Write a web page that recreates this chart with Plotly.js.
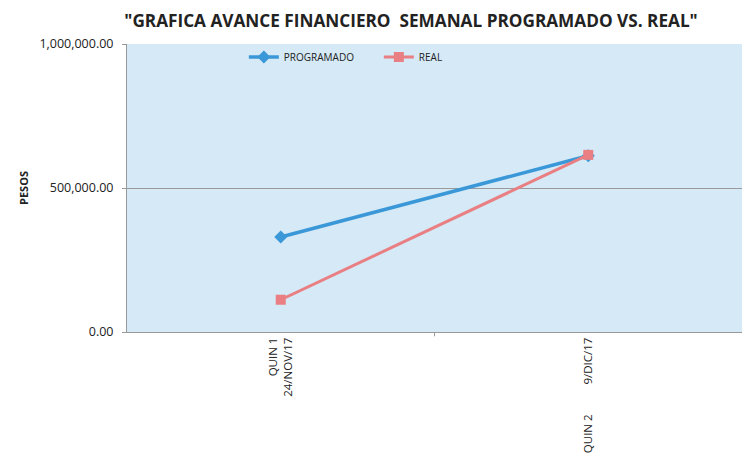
<!DOCTYPE html>
<html><head><meta charset="utf-8">
<script src="https://cdn.plot.ly/plotly-3.0.1.min.js"></script>
<style>body{margin:0;background:#fff}#c{width:750px;height:459px}</style>
</head><body><div id="c"></div>
<script>
var categories = ["QUIN 1<br>24/NOV/17", "QUIN 2\u00a0\u00a0\u00a0\u00a0\u00a0\u00a0\u00a0\u00a0\u00a0\u00a09/DIC/17"];
var programado = [330000, 612000];
var real = [112000, 615000];
var yTicks = [0, 500000, 1000000];

var xIdx = categories.map(function(_, i){ return i; });
var font = "'Open Sans', sans-serif";

var traces = [
  {x: xIdx, y: programado, name: "PROGRAMADO", type: "scatter", mode: "lines+markers",
   line: {color: "#3A98D8", width: 3.5}, marker: {symbol: "diamond", size: 10, color: "#3A98D8"}},
  {x: xIdx, y: real, name: "REAL", type: "scatter", mode: "lines+markers",
   line: {color: "#E97F82", width: 3}, marker: {symbol: "square", size: 10, color: "#E97F82"}}
];

var layout = {
  width: 750, height: 459,
  paper_bgcolor: "#ffffff", plot_bgcolor: "#D5E9F6",
  margin: {l: 127, r: 8, t: 44, b: 127},
  font: {family: font, color: "#222"},
  title: {text: "<b>\"GRAFICA AVANCE FINANCIERO  SEMANAL PROGRAMADO VS. REAL\"</b>",
          font: {size: 17.2, family: font, color: "#222"}, x: 0.548, xanchor: "center", y: 0.955, yanchor: "middle"},
  showlegend: true,
  legend: {orientation: "h", x: 0.19, y: 1.005, xanchor: "left", yanchor: "top",
           bgcolor: "rgba(0,0,0,0)", font: {size: 10, family: font, color: "#222"}, itemwidth: 30,
           tracegroupgap: 0, entrywidth: 90},
  xaxis: {range: [-0.5, 1.5], tickvals: xIdx, ticktext: categories, tickangle: -90,
          showgrid: false, zeroline: false, showline: true, linecolor: "#999", linewidth: 1,
          ticks: "", tickfont: {size: 11.5, family: font, color: "#222"}, fixedrange: true},
  yaxis: {range: [0, 1000000], tickvals: yTicks, tickformat: ",.2f",
          showgrid: true, gridcolor: "#9a9a9a", gridwidth: 1, zeroline: false,
          showline: true, linecolor: "#999", ticks: "outside", ticklen: 4, tickcolor: "#999",
          ticklabelstandoff: 6,
          tickfont: {size: 12.5, family: font, color: "#222"},
          title: {text: "<b>PESOS</b>", font: {size: 11, family: font, color: "#222"}, standoff: 8}},
  shapes: [{type: "line", xref: "x", yref: "paper", x0: 0.5, x1: 0.5, y0: 0, y1: -0.015,
            line: {color: "#999", width: 1}}]
};

Plotly.newPlot("c", traces, layout, {displayModeBar: false, staticPlot: true});
</script></body></html>
